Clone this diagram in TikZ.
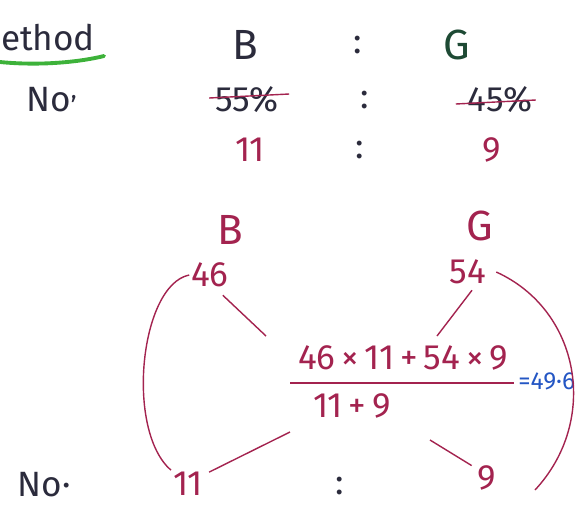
\documentclass[tikz,border=0pt]{standalone}
\usepackage{fontspec}
\setmainfont{Fira Sans}
\definecolor{ink}{HTML}{2B2B3C}
\definecolor{crim}{HTML}{A3234F}
\definecolor{pen}{HTML}{2456C4}
\definecolor{hl}{HTML}{3DB23A}
\definecolor{dkg}{HTML}{1E4A34}
\begin{document}
\begin{tikzpicture}[x=0.02cm,y=-0.02cm,every node/.style={inner sep=1pt,font=\fontsize{20}{24}\selectfont,text=ink}]
\useasboundingbox (0,0) rectangle (581,508);

% top table
\node (ttl) at (48,38) {ethod};
\draw[hl,line width=2.2pt,line cap=round] (0,62) .. controls (40,66) and (80,62) .. (104,56);
\node (no1) at (52,100) {No\textsuperscript{,}};
\node (hb) at (245,45) {\fontsize{24}{28}\selectfont B};
\node (hg) at (457,45) [text=dkg] {\fontsize{24}{28}\selectfont G};
\node (p55) at (247,100) {55\%};
\node (p45) at (500,100) {45\%};
\node (r11) at (250,150) [text=crim] {11};
\node (r9) at (492,150) [text=crim] {9};
\foreach \x/\y in {358/45,365/100,360/150,340/486}
  \node (c\x) at (\x,\y) {:};
\draw[crim,thick] (p55.west) ++(-4,-2) -- ++(80,-4);
\draw[crim,thick] (p45.west) ++(-10,4) -- ++(80,-4);

% weighted average
\node (b2) at (230,230) [text=crim] {\fontsize{24}{28}\selectfont B};
\node (g2) at (480,226) [text=crim] {\fontsize{24}{28}\selectfont G};
\node (n46) at (210,275) [text=crim] {46};
\node (n54) at (468,272) [text=crim] {54};
\node (num) at (403,358) [text=crim] {46\,×\,11\,+\,54\,×\,9};
\node (den) at (352,406) [text=crim] {11\,+\,9};
\node (res) at (518,381) [text=pen,anchor=west,inner sep=0pt,font=\fontsize{14}{17}\selectfont] {=49·6};
\node (n11) at (188,484) [text=crim] {11};
\node (n9) at (487,478) [text=crim] {9};
\node (no2) at (44,485) {No·};
\draw[crim,thick] (290,383) -- (514,383);

\coordinate (e46) at (266,336);
\coordinate (e54) at (437,336);
\coordinate (e11) at (290,432);
\coordinate (e9) at (430,440);
\coordinate (t54) at (535,490);
\draw[crim,thick] (n46.south east) ++(-8,6) -- (e46);
\draw[crim,thick] (n54.south) ++(4,4) -- (e54);
\draw[crim,thick] (n11.north east) ++(4,2) -- (e11);
\draw[crim,thick] (n9.north west) ++(-4,2) -- (e9);
\draw[crim,thick] (n46.west) .. controls (140,285) and (125,430) .. (n11.north west);
\draw[crim,thick] (n54.east) ++(8,0) .. controls (580,310) and (600,420) .. (t54);

\end{tikzpicture}
\end{document}
